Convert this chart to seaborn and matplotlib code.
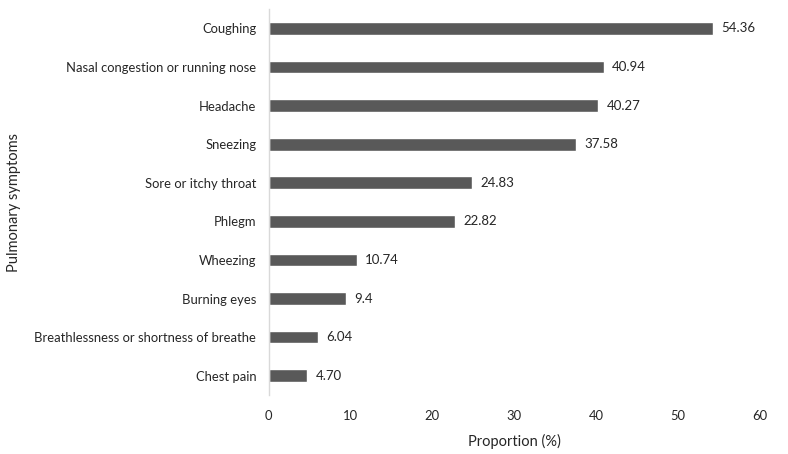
import pandas as pd
import matplotlib.pyplot as plt
import seaborn as sns

symptoms = ["Coughing", "Nasal congestion or running nose", "Headache", "Sneezing",
            "Sore or itchy throat", "Phlegm", "Wheezing", "Burning eyes",
            "Breathlessness or shortness of breathe", "Chest pain"]
proportions = [54.36, 40.94, 40.27, 37.58, 24.83, 22.82, 10.74, 9.4, 6.04, 4.70]
value_labels = ["54.36", "40.94", "40.27", "37.58", "24.83", "22.82", "10.74", "9.4", "6.04", "4.70"]

df = pd.DataFrame({"symptom": symptoms, "proportion": proportions})

sns.set_style("white")
plt.rcParams["font.family"] = ["Lato", "DejaVu Sans"]

fig = plt.figure(figsize=(7.88, 4.54), dpi=100)
ax = fig.add_axes([0.341, 0.130, 0.623, 0.850])

sns.barplot(data=df, x="proportion", y="symptom", color="#595959",
            width=0.33, saturation=1, ax=ax)

for i, (v, lab) in enumerate(zip(proportions, value_labels)):
    ax.text(v + 1.0, i, lab, va="center", ha="left", fontsize=9.5, color="#262626")

ax.set_xlim(0, 60)
ax.set_xticks(range(0, 61, 10))
ax.set_xlabel("Proportion (%)", fontsize=10.5, color="#262626")
ax.set_ylabel("Pulmonary symptoms", fontsize=10.5, color="#262626")
ax.xaxis.set_label_coords(0.5, -0.1)
ax.yaxis.set_label_coords(-0.505, 0.5)
ax.tick_params(axis="both", length=0, labelsize=9.4, colors="#262626")
ax.tick_params(axis="x", pad=11)
ax.tick_params(axis="y", pad=9)

for s in ["top", "right", "bottom"]:
    ax.spines[s].set_visible(False)
ax.spines["left"].set_color("#d9d9d9")
ax.spines["left"].set_linewidth(1)

fig.savefig("out.png", dpi=100)
